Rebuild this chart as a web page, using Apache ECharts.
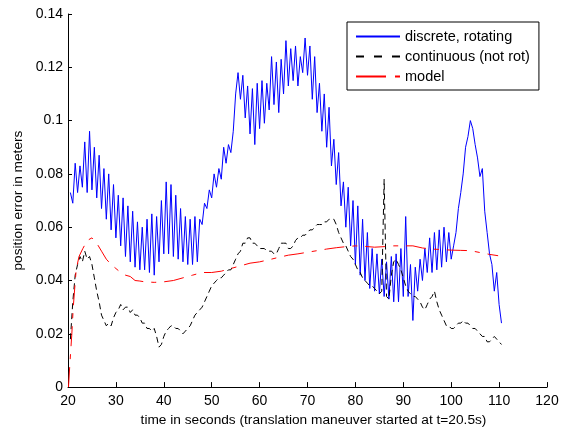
<!DOCTYPE html>
<html>
<head>
<meta charset="utf-8">
<script src="https://cdn.jsdelivr.net/npm/echarts@6/dist/echarts.min.js"></script>
<style>
  html, body { margin: 0; padding: 0; background: #fff; }
  #chart { width: 565px; height: 432px; }
</style>
</head>
<body>
<div id="chart"></div>
<script>
// Position error (m) over time (s); samples every 0.5 s.
const discreteStart = 20.5;
const discreteStep = 0.5;
const discreteRotating = [
  0.073, 0.069, 0.084, 0.073, 0.083, 0.075, 0.092, 0.073, 0.096, 0.074,
  0.090, 0.071, 0.087, 0.067, 0.082, 0.063, 0.080, 0.059, 0.076, 0.056,
  0.072, 0.053, 0.071, 0.049, 0.068, 0.047, 0.066, 0.045, 0.062, 0.044,
  0.060, 0.044, 0.063, 0.043, 0.065, 0.042, 0.064, 0.047, 0.070, 0.050,
  0.077, 0.050, 0.076, 0.049, 0.072, 0.048, 0.067, 0.047, 0.064, 0.046,
  0.063, 0.046, 0.064, 0.047, 0.063, 0.061, 0.069, 0.067, 0.074, 0.071,
  0.080, 0.075, 0.082, 0.078, 0.090, 0.084, 0.091, 0.088, 0.096, 0.110,
  0.118, 0.108, 0.117, 0.101, 0.113, 0.095, 0.112, 0.091, 0.114, 0.097,
  0.115, 0.099, 0.114, 0.104, 0.124, 0.106, 0.122, 0.103, 0.123, 0.110,
  0.130, 0.113, 0.127, 0.115, 0.128, 0.113, 0.124, 0.118, 0.131, 0.117,
  0.128, 0.108, 0.124, 0.103, 0.114, 0.096, 0.110, 0.090, 0.105, 0.083,
  0.093, 0.076, 0.088, 0.068, 0.077, 0.060, 0.075, 0.053, 0.070, 0.046,
  0.068, 0.042, 0.063, 0.040, 0.058, 0.037, 0.052, 0.036, 0.050, 0.035,
  0.048, 0.034, 0.047, 0.033, 0.049, 0.032, 0.050, 0.032, 0.052, 0.034,
  0.064, 0.034, 0.046, 0.025, 0.045, 0.036, 0.048, 0.040, 0.052, 0.043,
  0.056, 0.043, 0.058, 0.044, 0.059, 0.045, 0.060, 0.047, 0.058, 0.048,
  0.053, 0.058, 0.067, 0.073, 0.080, 0.090, 0.094, 0.100, 0.097, 0.091,
  0.086, 0.079, 0.082, 0.066, 0.058, 0.050, 0.046, 0.036, 0.043, 0.031,
  0.024
];

const continuousStart = 20.5;
const continuousStep = 0.5;
const continuousNotRot = [
  0.018, 0.032, 0.042, 0.046, 0.049, 0.047, 0.051, 0.048, 0.049, 0.046,
  0.041, 0.036, 0.032, 0.027, 0.025, 0.023, 0.024, 0.023, 0.026, 0.028,
  0.029, 0.031, 0.029, 0.030, 0.030, 0.028, 0.029, 0.027, 0.027, 0.026,
  0.024, 0.024, 0.022, 0.022, 0.021, 0.022, 0.019, 0.015, 0.016, 0.019,
  0.021, 0.022, 0.023, 0.023, 0.022, 0.022, 0.021, 0.020, 0.021, 0.022,
  0.023, 0.025, 0.027, 0.028, 0.029, 0.030, 0.032, 0.034, 0.036, 0.038,
  0.039, 0.040, 0.041, 0.041, 0.042, 0.043, 0.044, 0.044, 0.046, 0.048,
  0.050, 0.051, 0.054, 0.054, 0.056, 0.056, 0.054, 0.054, 0.053, 0.052,
  0.052, 0.052, 0.051, 0.051, 0.051, 0.050, 0.050, 0.052, 0.054, 0.054,
  0.054, 0.052, 0.052, 0.053, 0.055, 0.056, 0.056, 0.057, 0.057, 0.058,
  0.059, 0.059, 0.060, 0.061, 0.061, 0.061, 0.062, 0.062, 0.063, 0.063,
  0.063, 0.061, 0.058, 0.056, 0.054, 0.053, 0.051, 0.049, 0.048, 0.046,
  0.044, 0.043, 0.041, 0.040, 0.039, 0.038, 0.038, 0.037, 0.036, 0.035,
  0.036, 0.078, 0.034, 0.033, 0.042, 0.047, 0.048, 0.046, 0.044, 0.041,
  0.038, 0.036, 0.035, 0.034, 0.034, 0.033, 0.032, 0.030, 0.029, 0.031,
  0.033, 0.034, 0.036, 0.032, 0.029, 0.027, 0.025, 0.023, 0.023, 0.022,
  0.022, 0.023, 0.024, 0.024, 0.025, 0.024, 0.024, 0.023, 0.022, 0.022,
  0.021, 0.020, 0.019, 0.019, 0.017, 0.017, 0.018, 0.019, 0.018, 0.017,
  0.016
];

// Model prediction: time (s) and error (m)
const modelTime = [
  20.1, 20.4, 20.8, 21.1, 21.7, 22.3, 23.1, 24, 25, 26, 27, 28, 29, 30,
  31, 32, 33, 34, 35, 36, 38, 40, 42, 44, 46, 48, 50, 52, 54, 56, 58, 60,
  62, 64, 66, 68, 70, 72, 74, 76, 78, 80, 82, 84, 86, 88, 90, 92, 94, 96,
  98, 100, 102, 104, 106, 108, 109.8
];
const modelError = [
  0.000, 0.009, 0.020, 0.030, 0.044, 0.049, 0.052, 0.055, 0.056, 0.054,
  0.051, 0.048, 0.046, 0.0445, 0.043, 0.042, 0.0415, 0.040, 0.0398, 0.0395,
  0.0393, 0.0395, 0.040, 0.041, 0.042, 0.043, 0.043, 0.0435, 0.0445, 0.0455,
  0.0465, 0.047, 0.0478, 0.0487, 0.0495, 0.050, 0.0506, 0.0512, 0.0518, 0.0523,
  0.0527, 0.053, 0.0528, 0.0525, 0.0527, 0.053, 0.053, 0.053, 0.0522, 0.0518,
  0.0516, 0.0514, 0.0513, 0.0512, 0.0505, 0.0498, 0.0493
];

const xTicks = { min: 20, max: 120, step: 10 };
const yTicks = { min: 0, max: 0.14, step: 0.02 };

function sampled(start, step, values) {
  return values.map((v, i) => [start + i * step, v]);
}
function paired(ts, vs) {
  return ts.map((t, i) => [t, vs[i]]);
}

const FONT = '"Liberation Sans", Arial, Helvetica, sans-serif';
const noMarker = { color: 'rgba(0,0,0,0)', borderColor: 'rgba(0,0,0,0)', borderWidth: 0 };

const chart = echarts.init(document.getElementById('chart'), null, { renderer: 'canvas' });

chart.setOption({
  backgroundColor: '#ffffff',
  animation: false,
  grid: { left: 68, right: 18, top: 14, bottom: 40, containLabel: false },
  legend: {
    orient: 'vertical',
    left: 347,
    top: 22,
    padding: [7, 9, 6, 8],
    itemGap: 5,
    itemWidth: 44,
    itemHeight: 10,
    backgroundColor: '#ffffff',
    borderColor: '#000000',
    borderWidth: 1,
    itemStyle: noMarker,
    textStyle: { fontFamily: FONT, fontSize: 14.5, color: '#000' },
    data: [
      { name: 'discrete, rotating', itemStyle: noMarker, lineStyle: { type: 'solid' } },
      { name: 'continuous (not rot)', itemStyle: noMarker, lineStyle: { type: [8, 10] } },
      { name: 'model', itemStyle: noMarker, lineStyle: { type: [30, 9, 5, 10] } }
    ]
  },
  xAxis: {
    type: 'value',
    min: xTicks.min,
    max: xTicks.max,
    interval: xTicks.step,
    name: 'time in seconds (translation maneuver started at t=20.5s)',
    nameLocation: 'middle',
    nameGap: 24,
    nameTextStyle: { fontFamily: FONT, fontSize: 13.7, color: '#000', padding: [0, 0, 0, 12] },
    axisLine: { show: true, onZero: false, lineStyle: { color: '#000', width: 1 } },
    axisTick: { show: true, inside: true, length: 5, lineStyle: { color: '#000' } },
    axisLabel: { fontFamily: FONT, fontSize: 14, color: '#000', margin: 7 },
    splitLine: { show: false }
  },
  yAxis: {
    type: 'value',
    min: yTicks.min,
    max: yTicks.max,
    interval: yTicks.step,
    name: 'position error in meters',
    nameLocation: 'middle',
    nameGap: 40,
    nameTextStyle: { fontFamily: FONT, fontSize: 13.7, color: '#000' },
    axisLine: { show: true, lineStyle: { color: '#000', width: 1 } },
    axisTick: { show: true, inside: true, length: 4, lineStyle: { color: '#000' } },
    axisLabel: {
      fontFamily: FONT, fontSize: 14, color: '#000', margin: 5,
      formatter: v => (Math.round(v * 100) / 100).toString()
    },
    splitLine: { show: false }
  },
  series: [
    {
      name: 'discrete, rotating',
      type: 'line',
      data: sampled(discreteStart, discreteStep, discreteRotating),
      symbol: 'none',
      lineStyle: { color: '#0000ff', width: 1 },
      itemStyle: { color: '#0000ff' }
    },
    {
      name: 'continuous (not rot)',
      type: 'line',
      data: sampled(continuousStart, continuousStep, continuousNotRot),
      symbol: 'none',
      lineStyle: { color: '#000000', width: 1, type: [6, 4] },
      itemStyle: { color: '#000000' }
    },
    {
      name: 'model',
      type: 'line',
      data: paired(modelTime, modelError),
      symbol: 'none',
      lineStyle: { color: '#ff0000', width: 1, type: [20, 8, 5, 8] },
      itemStyle: { color: '#ff0000' }
    }
  ]
});
</script>
</body>
</html>
